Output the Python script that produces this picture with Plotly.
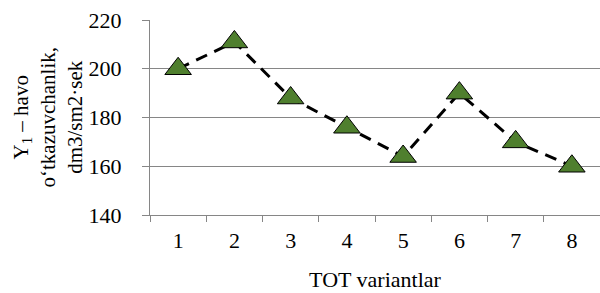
import plotly.graph_objects as go

categories = ["1", "2", "3", "4", "5", "6", "7", "8"]
values = [200, 211, 188, 176, 164, 190, 170, 160]
y_ticks = [140, 160, 180, 200, 220]
x_title = "TOT variantlar"
y_title = "Y<sub>1</sub> – havo<br>o‘tkazuvchanlik,<br>dm3/sm2·sek"

FONT = "Liberation Serif"
GRID = "#868686"

fig = go.Figure()
fig.add_trace(go.Scatter(
    x=categories, y=values, mode="lines+markers",
    line=dict(color="black", width=3, dash="12px,8px"),
    marker=dict(symbol="triangle-up", size=23, color="#4F7F2E",
                line=dict(color="black", width=1)),
    showlegend=False,
))

fig.update_layout(
    width=600, height=293,
    margin=dict(l=150, r=0, t=20, b=78),
    paper_bgcolor="white", plot_bgcolor="white",
    font=dict(family=FONT, size=22, color="black"),
    xaxis=dict(
        type="category", range=[-0.5, 7.5], tickson="boundaries",
        automargin=False,
        showgrid=False, showline=True, linecolor=GRID, linewidth=1,
        ticks="outside", ticklen=6, tickcolor=GRID,
        ticklabelstandoff=6,
        tickfont=dict(family=FONT, size=22, color="black"),
        title=dict(text=x_title, font=dict(family=FONT, size=22), standoff=19),
    ),
    yaxis=dict(
        range=[140, 220], tickvals=y_ticks, automargin=False,
        showgrid=True, gridcolor=GRID, gridwidth=1,
        showline=True, linecolor=GRID, linewidth=1,
        ticks="outside", ticklen=7, tickcolor=GRID,
        ticklabelstandoff=16, zeroline=False,
        tickfont=dict(family=FONT, size=22, color="black"),
    ),
    annotations=[dict(
        text=y_title, textangle=-90, showarrow=False,
        xref="paper", yref="paper", x=(48 - 150) / 450, y=0.5,
        xanchor="center", yanchor="middle",
        font=dict(family=FONT, size=21, color="black"),
    )],
)

fig.write_html(
    "out.html",
    config={"displayModeBar": False},
    post_script="document.body.style.margin='0';document.body.style.overflow='hidden';"
                "document.documentElement.style.overflow='hidden';",
)
